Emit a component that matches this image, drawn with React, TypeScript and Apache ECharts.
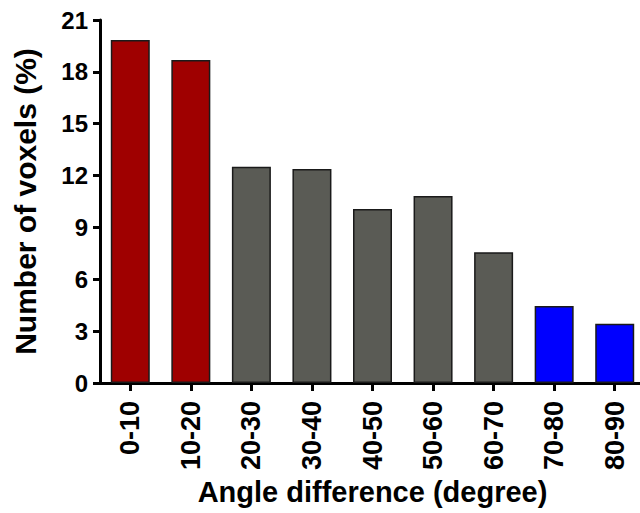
import React, { useEffect, useRef } from "react";
import * as echarts from "echarts";

const categories = ["0-10", "10-20", "20-30", "30-40", "40-50", "50-60", "60-70", "70-80", "80-90"];
const values = [19.84, 18.68, 12.51, 12.38, 10.06, 10.82, 7.56, 4.45, 3.43];
const barColors = ["#9f0000", "#9f0000", "#5a5b55", "#5a5b55", "#5a5b55", "#5a5b55", "#5a5b55", "#0000ff", "#0000ff"];
const yMin = 0;
const yMax = 21;
const yInterval = 3;

const FONT = "Liberation Sans, Arial, sans-serif";

export default function App() {
  const ref = useRef<HTMLDivElement>(null);
  useEffect(() => {
    document.body.style.margin = "0";
    const chart = echarts.init(ref.current!, null, { renderer: "svg" });
    chart.setOption({
      animation: false,
      backgroundColor: "#ffffff",
      grid: { left: 100, top: 20, width: 545, bottom: 130, containLabel: false },
      xAxis: {
        type: "category",
        data: categories,
        name: "Angle difference (degree)",
        nameLocation: "middle",
        nameGap: 92,
        nameTextStyle: { fontFamily: FONT, fontWeight: "bold", fontSize: 29, color: "#000" },
        axisLine: { show: true, lineStyle: { color: "#000", width: 3 } },
        axisTick: { show: true, alignWithLabel: true, length: 8, lineStyle: { color: "#000", width: 3 } },
        axisLabel: { rotate: 90, margin: 18, fontFamily: FONT, fontWeight: "bold", fontSize: 27, color: "#000" },
        splitLine: { show: false },
      },
      yAxis: {
        type: "value",
        min: yMin,
        max: yMax,
        interval: yInterval,
        name: "Number of voxels (%)",
        nameLocation: "middle",
        nameGap: 60,
        nameTextStyle: { fontFamily: FONT, fontWeight: "bold", fontSize: 30, color: "#000" },
        axisLine: { show: true, lineStyle: { color: "#000", width: 3 } },
        axisTick: { show: true, length: 7, lineStyle: { color: "#000", width: 3 } },
        axisLabel: { margin: 12, fontFamily: FONT, fontWeight: "bold", fontSize: 24, color: "#000" },
        splitLine: { show: false },
      },
      series: [
        {
          type: "bar",
          barWidth: 39,
          data: values.map((v, i) => ({
            value: v,
            itemStyle: { color: barColors[i], borderColor: "#1a1a1a", borderWidth: 1.5 },
          })),
        },
      ],
    });
    return () => chart.dispose();
  }, []);
  return (
    <div style={{ position: "absolute", left: 0, top: 0, width: 640, height: 513, overflow: "hidden" }}>
      <div ref={ref} style={{ width: 700, height: 513 }} />
    </div>
  );
}
